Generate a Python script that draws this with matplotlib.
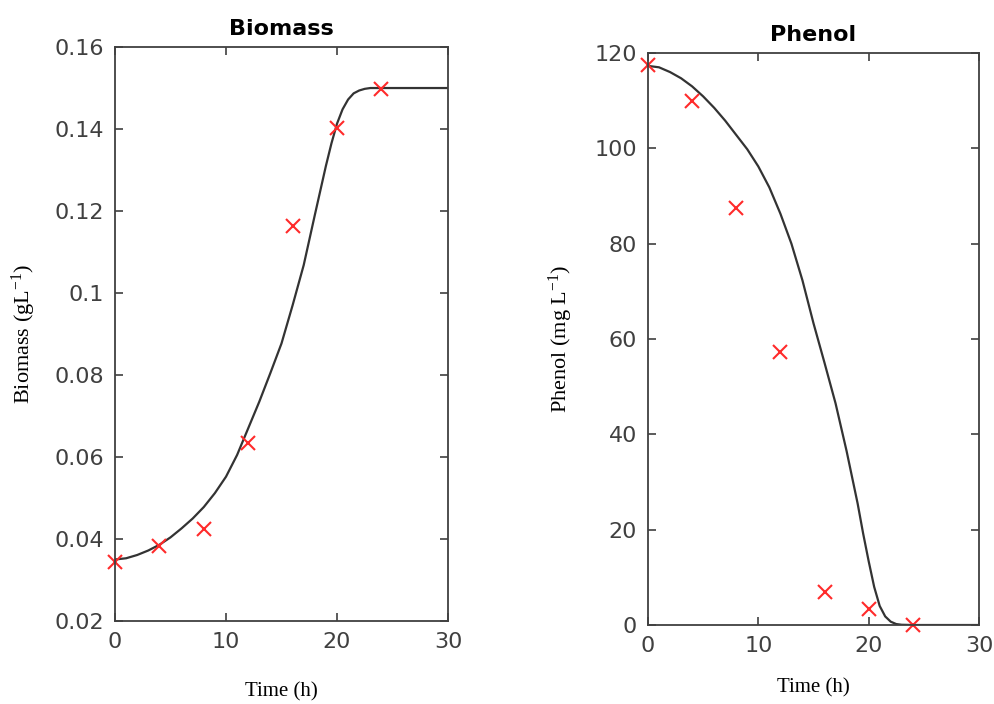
import matplotlib
matplotlib.use('Agg')
import matplotlib.pyplot as plt
from matplotlib.ticker import FuncFormatter

# experimental data
t_exp = [0, 4, 8, 12, 16, 20, 24]
biomass_exp = [0.0345, 0.0383, 0.0425, 0.0633, 0.1163, 0.1403, 0.1498]
phenol_exp = [117.5, 110.0, 87.5, 57.3, 7.0, 3.4, 0.0]

# model curves
t_model = [0, 1, 2, 3, 4, 5, 6, 7, 8, 9, 10, 11, 12, 13, 14, 15, 16, 17, 18,
           19, 19.5, 20, 20.5, 21, 21.5, 22, 22.5, 23, 24, 26, 28, 30]
biomass_model = [0.0350, 0.0353, 0.0361, 0.0372, 0.0386, 0.0404, 0.0426, 0.0450,
                 0.0478, 0.0512, 0.0552, 0.0605, 0.0670, 0.0735, 0.0805, 0.0877,
                 0.0970, 0.1068, 0.1190, 0.1310, 0.1365, 0.1413, 0.1448, 0.1472,
                 0.1487, 0.1494, 0.1498, 0.1500, 0.1500, 0.1500, 0.1500, 0.1500]
phenol_model = [117.3, 117.0, 116.0, 114.7, 113.0, 110.9, 108.5, 105.8, 102.8,
                99.8, 96.2, 91.8, 86.3, 80.0, 72.3, 63.3, 55.0, 46.5, 36.5,
                25.5, 19.2, 13.4, 8.0, 4.0, 1.8, 0.7, 0.2, 0.05, 0.0, 0.0, 0.0, 0.0]

x_ticks = [0, 10, 20, 30]
biomass_ticks = [0.02, 0.04, 0.06, 0.08, 0.1, 0.12, 0.14, 0.16]
phenol_ticks = [0, 20, 40, 60, 80, 100, 120]

plt.rcParams['mathtext.default'] = 'regular'

fig = plt.figure(figsize=(9.94, 7.04), dpi=100)
ax1 = fig.add_axes([0.1157, 0.1179, 0.335, 0.8153])
ax2 = fig.add_axes([0.6519, 0.1122, 0.333, 0.8125])

gray = '#404040'
serif = 'Liberation Serif'


def style(ax):
    for s in ax.spines.values():
        s.set_color(gray)
        s.set_linewidth(1.3)
    ax.tick_params(direction='in', top=True, right=True, length=6, width=1.2,
                   colors=gray, labelsize=16, pad=8)
    ax.set_xlim(0, 30)
    ax.set_xticks(x_ticks)


ax1.plot(t_model, biomass_model, color='#333333', lw=1.6)
ax1.plot(t_exp, biomass_exp, 'x', color='#ff2a2a', ms=10, mew=1.5, clip_on=False)
ax1.set_ylim(0.02, 0.16)
ax1.set_yticks(biomass_ticks)
ax1.yaxis.set_major_formatter(FuncFormatter(lambda v, p: '%g' % round(v, 2)))
style(ax1)
ax1.set_title('Biomass', fontsize=16, fontweight='bold', pad=9)
ax1.set_xlabel('Time (h)', fontfamily=serif, fontsize=15, labelpad=22)
ax1.set_ylabel('Biomass (gL$^{-1}$)', fontfamily=serif, fontsize=16, labelpad=12)

ax2.plot(t_model, phenol_model, color='#333333', lw=1.6)
ax2.plot(t_exp, phenol_exp, 'x', color='#ff2a2a', ms=10, mew=1.5, clip_on=False)
ax2.set_ylim(0, 120)
ax2.set_yticks(phenol_ticks)
style(ax2)
ax2.set_title('Phenol', fontsize=16, fontweight='bold', pad=9)
ax2.set_xlabel('Time (h)', fontfamily=serif, fontsize=15, labelpad=16)
ax2.set_ylabel('Phenol (mg L$^{-1}$)', fontfamily=serif, fontsize=16, labelpad=14)

fig.savefig('out.png', dpi=100)
